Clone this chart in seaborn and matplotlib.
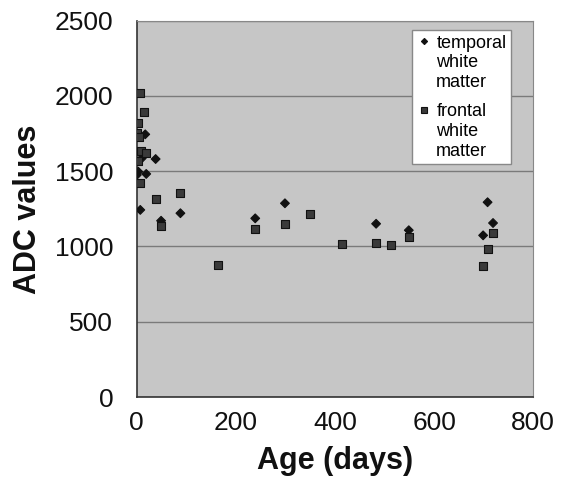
import pandas as pd
import matplotlib.pyplot as plt
import seaborn as sns

# temporal white matter (diamonds)
temporal_age = [17, 10, 38, 3, 0, 19, 7, 88, 49, 299, 239, 483, 549, 708, 719, 699]
temporal_adc = [1745, 1586, 1581, 1497, 1475, 1482, 1243, 1221, 1171, 1287, 1187, 1151, 1108, 1294, 1156, 1074]

# frontal white matter (squares)
frontal_age = [7, 15, 2, 0, 5, 8, 19, 2, 7, 88, 39, 49, 349, 299, 239, 414, 483, 164, 513, 549, 719, 708, 699]
frontal_adc = [2020, 1892, 1823, 1754, 1730, 1637, 1619, 1570, 1420, 1353, 1314, 1136, 1216, 1150, 1116,
               1017, 1021, 879, 1008, 1065, 1088, 983, 868]

t_lab = 'temporal\nwhite\nmatter'
f_lab = 'frontal\nwhite\nmatter'

df = pd.concat([
    pd.DataFrame({'age': temporal_age, 'adc': temporal_adc, 'tissue': t_lab}),
    pd.DataFrame({'age': frontal_age, 'adc': frontal_adc, 'tissue': f_lab}),
])

sns.set_style('white')
plt.rcParams['font.family'] = ['Liberation Sans', 'DejaVu Sans']
plt.rcParams['text.color'] = 'black'

fig = plt.figure(figsize=(5.63, 4.92), dpi=100)
ax = fig.add_axes([0.243, 0.193, 0.704, 0.765])
ax.set_facecolor('#c6c6c6')

sns.scatterplot(data=df, x='age', y='adc', hue='tissue', style='tissue', size='tissue',
                palette={t_lab: '#111111', f_lab: '#3a3a3a'},
                markers={t_lab: 'D', f_lab: 's'},
                sizes={t_lab: 20, f_lab: 34},
                edgecolor='#111111', linewidth=0.8, ax=ax, zorder=3)

ax.set_xlim(0, 800)
ax.set_ylim(0, 2500)
ax.set_xticks([0, 200, 400, 600, 800])
ax.set_yticks([0, 500, 1000, 1500, 2000, 2500])
ax.grid(axis='y', color='#7a7a7a', linewidth=1.0)
ax.grid(axis='x', visible=False)
ax.set_axisbelow(True)

for side in ['top', 'right']:
    ax.spines[side].set_color('#888888')
for side in ['left', 'bottom']:
    ax.spines[side].set_color('#333333')
    ax.spines[side].set_linewidth(1.2)

ax.tick_params(axis='both', labelsize=19, length=5, direction='out', color='#777777',
               labelcolor='#111111')
ax.tick_params(axis='y', pad=12)
ax.tick_params(axis='x', pad=5)
ax.set_xlabel('Age (days)', fontsize=22, fontweight='bold', labelpad=8, color='#111111')
ax.set_ylabel('ADC values', fontsize=22, fontweight='bold', labelpad=8, color='#111111')

leg = ax.legend(loc='upper left', bbox_to_anchor=(0.694, 0.975), frameon=True, fancybox=False,
                fontsize=13, handletextpad=0.3, handlelength=0.8, borderpad=0.25,
                labelspacing=0.7, markerscale=0.7, borderaxespad=0)
leg.get_frame().set_edgecolor('#888888')
leg.get_frame().set_facecolor('white')
leg.get_frame().set_alpha(1)
# put the marker next to the first line of each label
for col in leg._legend_handle_box.get_children():
    for entry in col.get_children():
        entry.align = 'top'

fig.savefig('out.png', dpi=100)
